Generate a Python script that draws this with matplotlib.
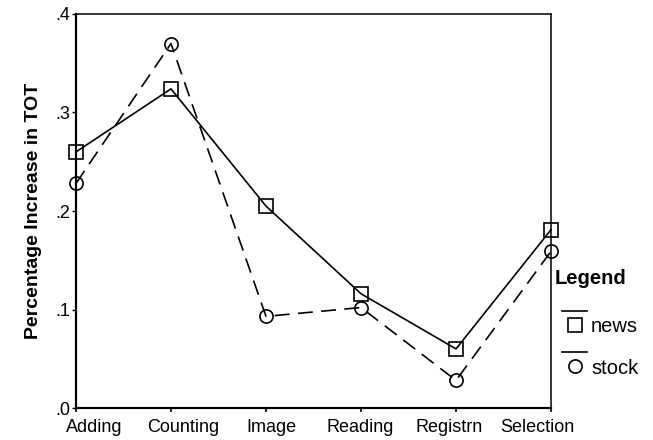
import matplotlib
matplotlib.use("Agg")
import matplotlib.pyplot as plt
from matplotlib.lines import Line2D
from matplotlib.ticker import FuncFormatter

plt.rcParams["font.family"] = ["Liberation Sans", "DejaVu Sans"]

categories = ["Adding", "Counting", "Image", "Reading", "Registrn", "Selection"]
news = [0.260, 0.324, 0.205, 0.116, 0.060, 0.181]
stock = [0.228, 0.370, 0.093, 0.102, 0.028, 0.159]
y_ticks = [0.0, 0.1, 0.2, 0.3, 0.4]

fig = plt.figure(figsize=(6.53, 4.4), dpi=100)
ax = fig.add_axes([76 / 653, 1 - 408 / 440, 475 / 653, 394 / 440])

x = list(range(len(categories)))

# news: solid line with open squares
ax.plot(x, news, color="black", linewidth=1.2, linestyle="-",
        marker="s", markersize=9.5, markerfacecolor="none",
        markeredgecolor="black", markeredgewidth=1.2, clip_on=False, zorder=3)

# stock: dashed line with open circles
ax.plot(x, stock, color="black", linewidth=1.2, linestyle=(0, (9, 5)),
        marker="o", markersize=9.5, markerfacecolor="none",
        markeredgecolor="black", markeredgewidth=1.2, clip_on=False, zorder=3)

ax.set_xlim(0, len(categories) - 1)
ax.set_ylim(0, 0.4)

# tick marks sit on the categories, but the labels are spread evenly
# a bit inside the axis ends (as in the original SPSS output)
ax.set_xticks(x)
ax.set_xticklabels([])
n = len(categories)
label_pos = [0.19 + i * (4.86 - 0.19) / (n - 1) for i in range(n)]
ax.set_xticks(label_pos, minor=True)
ax.set_xticklabels(categories, minor=True, fontsize=13)
ax.tick_params(axis="x", which="minor", length=0, pad=8)
ax.tick_params(axis="x", which="major", length=3, width=1.2, direction="out")

ax.set_yticks(y_ticks)
ax.yaxis.set_major_formatter(FuncFormatter(lambda v, p: f"{v:.1f}".lstrip("0")))
ax.tick_params(axis="y", labelsize=13, length=3, width=1, pad=1, direction="out")

ax.set_ylabel("Percentage Increase in TOT", fontsize=14, fontweight="bold", labelpad=10)

for side in ["left", "bottom"]:
    ax.spines[side].set_linewidth(1.6)
for side in ["top", "right"]:
    ax.spines[side].set_linewidth(1.1)

# Legend drawn in figure pixel coordinates, outside the plot on the right
def px(xp, yp):
    return xp / 653, 1 - yp / 440

fig.text(*px(555, 279), "Legend", fontsize=14.5, fontweight="bold", va="center", ha="left")
for y_line, marker, label in [(311, "s", "news"), (352, "o", "stock")]:
    x0, y0 = px(562, y_line)
    x1, _ = px(587, y_line)
    fig.add_artist(Line2D([x0, x1], [y0, y0], color="black", linewidth=1.2))
    mx, my = px(575, y_line + 14)
    fig.add_artist(Line2D([mx], [my], marker=marker, markersize=9.5,
                          markerfacecolor="none", markeredgecolor="black",
                          markeredgewidth=1.2, linestyle="none"))
    fig.text(*px(591, y_line + 16), label, fontsize=14.5, va="center", ha="left")

fig.savefig("out.png", dpi=100)
